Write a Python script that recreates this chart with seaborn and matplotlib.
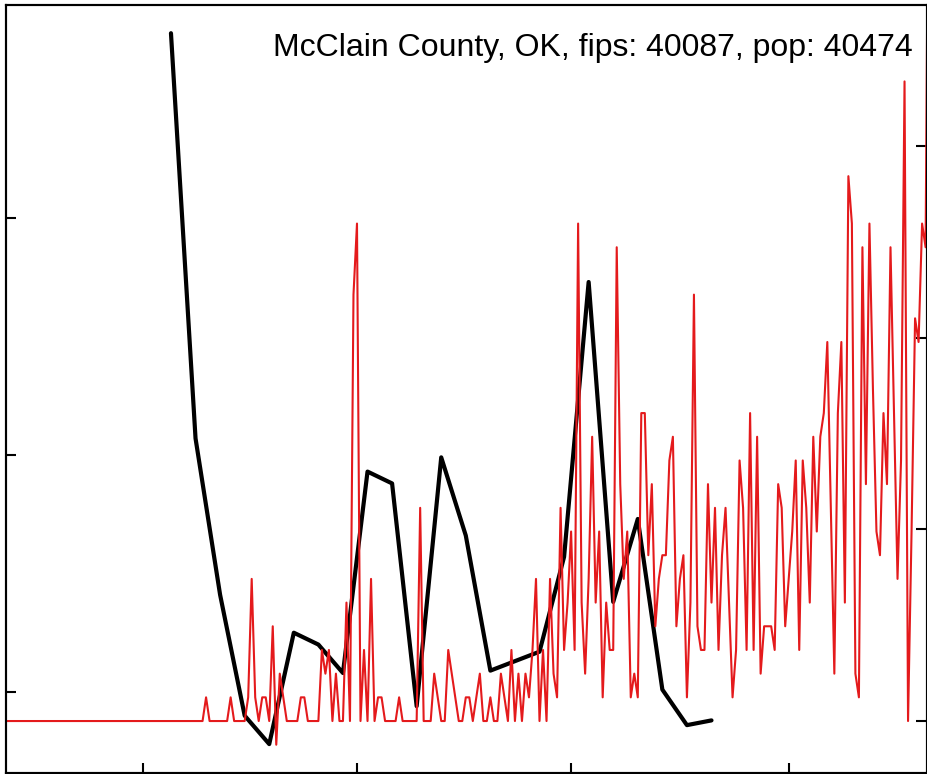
import matplotlib
matplotlib.use("Agg")
import matplotlib.pyplot as plt
import matplotlib.dates as mdates
import numpy as np
import pandas as pd
import seaborn as sns

# county info
county = "McClain County, OK"
fips = 40087
pop = 40474

# daily new cases, starting 2020-01-22
first_day = "2020-01-22"
daily_cases = [
    0, 0, 0, 0, 0, 0, 0, 0, 0, 0, 0, 0, 0, 0, 0, 0, 0, 0, 0, 0,
    0, 0, 0, 0, 0, 0, 0, 0, 0, 0, 0, 0, 0, 0, 0, 0, 0, 0, 0, 0,
    0, 0, 0, 0, 0, 0, 0, 0, 0, 0, 0, 0, 0, 0, 0, 0, 0, 1, 0, 0,
    0, 0, 0, 0, 1, 0, 0, 0, 0, 1, 6, 1, 0, 1, 1, 0, 4, -1, 2, 1,
    0, 0, 0, 0, 1, 1, 0, 0, 0, 0, 3, 2, 3, 0, 2, 0, 0, 5, 0, 18,
    21, 0, 3, 0, 6, 0, 1, 1, 0, 0, 0, 0, 1, 0, 0, 0, 0, 0, 9, 0,
    0, 0, 2, 1, 0, 0, 3, 2, 1, 0, 0, 1, 1, 0, 1, 2, 0, 0, 1, 0,
    0, 2, 1, 0, 3, 0, 2, 0, 2, 1, 3, 6, 0, 3, 0, 6, 2, 1, 9, 3,
    5, 8, 3, 21, 5, 2, 6, 12, 5, 8, 1, 5, 3, 3, 20, 10, 6, 8, 1, 2,
    1, 13, 13, 7, 10, 4, 6, 7, 7, 11, 12, 4, 6, 7, 1, 5, 18, 4, 3, 3,
    10, 5, 9, 3, 7, 9, 5, 1, 3, 11, 9, 3, 13, 3, 12, 2, 4, 4, 4, 3,
    10, 9, 4, 6, 8, 11, 3, 11, 9, 5, 12, 8, 12, 13, 16, 9, 2, 13, 16, 5,
    23, 21, 2, 1, 20, 10, 21, 14, 8, 7, 13, 10, 20, 13, 6, 11, 27, 0, 8, 17,
    16, 21, 20, 42,
]

# weekly series (left axis), starting 2020-03-09
first_week = "2020-03-09"
weekly_values = [2.78, 1.07, 0.41, -0.10, -0.22, 0.25, 0.20, 0.08, 0.93, 0.88,
                 -0.06, 0.99, 0.66, 0.09, 0.13, 0.17, 0.57, 1.73, 0.38, 0.73,
                 0.01, -0.14, -0.12]

left_ticks = [0, 1, 2]
right_ticks = [0, 20, 40, 60]

days = pd.date_range(first_day, periods=len(daily_cases), freq="D")
weeks = pd.date_range(first_week, periods=len(weekly_values), freq="7D")
df_daily = pd.DataFrame({"date": days,
                         "per100k": np.array(daily_cases) * 100000 / pop})
df_weekly = pd.DataFrame({"date": weeks, "value": weekly_values})

sns.set_style("white")
plt.rcParams["font.family"] = ["Liberation Sans", "DejaVu Sans"]

fig = plt.figure(figsize=(9.28, 7.74), dpi=100)
ax = fig.add_axes([6 / 928, 1 / 774, 921 / 928, 768 / 774])
ax2 = ax.twinx()

sns.lineplot(data=df_weekly, x="date", y="value", ax=ax, color="black", lw=3)
sns.lineplot(data=df_daily, x="date", y="per100k", ax=ax2, color="#e41a1c", lw=1.5)

ax.set_xlim(pd.Timestamp(first_day), pd.Timestamp(first_day) + pd.Timedelta(days=262.4))
ax.set_ylim(-0.342, 2.899)
ax2.set_ylim(-5.42, 74.68)
ax.set_yticks(left_ticks)
ax2.set_yticks(right_ticks)
ax.xaxis.set_major_locator(mdates.MonthLocator(bymonth=[3, 5, 7, 9]))

for a in (ax, ax2):
    a.set_xlabel("")
    a.set_ylabel("")
    for sp in a.spines.values():
        sp.set_visible(True)
        sp.set_color("black")
        sp.set_linewidth(1.5)
ax.tick_params(axis="both", direction="in", length=7, width=1.5, color="black",
               bottom=True, left=True, top=False, right=False,
               labelbottom=False, labelleft=False)
ax2.tick_params(axis="y", direction="in", length=8, width=1.5, color="black",
                right=True, left=False, labelright=False, labelleft=False)

ax2.text(0.984, 0.934, f"{county}, fips: {fips}, pop: {pop}",
         transform=ax2.transAxes, ha="right", va="baseline",
         fontsize=23, color="black")

plt.savefig("out.png", dpi=100)
